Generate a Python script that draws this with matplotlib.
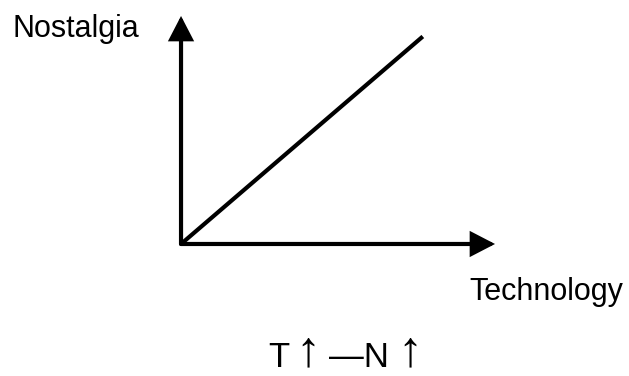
import matplotlib
matplotlib.use('Agg')
import matplotlib.pyplot as plt
from matplotlib.patches import FancyArrowPatch

# conceptual diagram: nostalgia grows with technology
technology = [0.0, 0.77]
nostalgia = [0.0, 0.91]
x_label = 'Technology'
y_label = 'Nostalgia'
# caption "T↑ —N↑" split into letters and arrows
caption_letters = ['T', '\u2014N']
caption_arrows = ['\u2191', '\u2191']

plt.rcParams['font.family'] = ['Liberation Sans', 'DejaVu Sans']

W, H = 629, 376
fig = plt.figure(figsize=(6.29, 3.76), dpi=100)
ax = fig.add_axes([0.2878, 0.3511, 0.4992, 0.6064])
ax.set_xlim(0, 1)
ax.set_ylim(0, 1)
ax.axis('off')

# axes as arrows
arrow_style = '-|>,head_length=13.5,head_width=7'
for end in [(1, 0), (0, 1)]:
    arr = FancyArrowPatch((0, 0), end, transform=ax.transAxes,
                          arrowstyle=arrow_style, mutation_scale=1,
                          lw=3, color='black', shrinkA=0, shrinkB=0,
                          clip_on=False, joinstyle='miter')
    ax.add_patch(arr)

ax.plot(technology, nostalgia, color='black', lw=3, solid_capstyle='butt',
        clip_on=False)

fig.text(13 / W, 1 - 37 / H, y_label, fontsize=22, va='baseline', ha='left')
fig.text(469 / W, 1 - 300 / H, x_label, fontsize=22, va='baseline', ha='left')

# caption pieces (pixel positions from left / baseline from top)
letter_x = [268, 329]
arrow_x = [308, 410]
for s, x in zip(caption_letters, letter_x):
    fig.text(x / W, 1 - 367 / H, s, fontsize=25, va='baseline', ha='left')
for s, x in zip(caption_arrows, arrow_x):
    fig.text(x / W, 1 - 365 / H, s, fontsize=36, va='baseline', ha='center')

fig.savefig('out.png', dpi=100)
